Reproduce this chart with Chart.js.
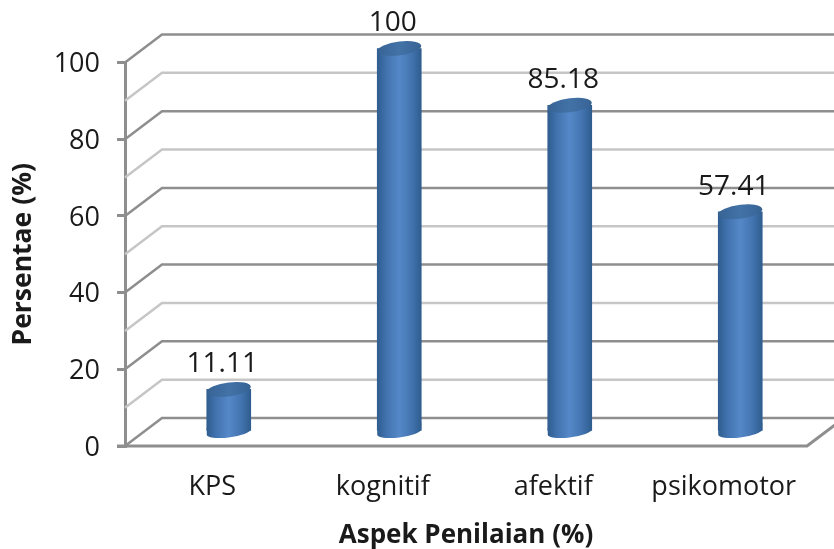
<!DOCTYPE html>
<html>
<head>
<meta charset="utf-8">
<script src="https://cdn.jsdelivr.net/npm/chart.js@4"></script>
<style>
  html, body { margin: 0; background: #fff; }
  canvas { display: block; }
</style>
</head>
<body>
<canvas id="chartAspek" width="834" height="549"></canvas>
<script>
// Persentase per aspek penilaian, silinder 3D semu di atas Chart.js
const categories = ["KPS", "kognitif", "afektif", "psikomotor"];
const values = [11.11, 100, 85.18, 57.41];
const valueLabels = ["11.11", "100", "85.18", "57.41"];
const yTicks = [0, 20, 40, 60, 80, 100];
const minorLines = [10, 30, 50, 70, 90];

const DEPTH_X = 37, DEPTH_Y = -28;
const BAR_W = 44, CAP_RY = 7, SLOPE = -0.12;
const MAJOR = "#8e8e8e", MINOR = "#c6c6c6";
const TEXT = "#1a1a1a", FONT = "Open Sans";

function barGradient(c, x, a, b, d) {
  const g = c.createLinearGradient(x - BAR_W / 2, 0, x + BAR_W / 2, 0);
  g.addColorStop(0, d);
  g.addColorStop(0.22, a);
  g.addColorStop(0.5, b);
  g.addColorStop(0.78, a);
  g.addColorStop(1, d);
  return g;
}

// elips miring, lebarnya tetap sama dengan batang
function drawCap(c, x, y, fill, bottom) {
  c.save();
  c.translate(x, y);
  c.transform(1, SLOPE, 0, 1, 0, 0);
  c.translate(-x, -y);
  c.beginPath();
  if (bottom) {
    // sisi tegak diteruskan supaya tidak ada takik di sudut batang
    c.moveTo(x - BAR_W / 2, y - CAP_RY);
    c.lineTo(x + BAR_W / 2, y - CAP_RY);
    c.ellipse(x, y, BAR_W / 2, CAP_RY - 1.5, 0, 0, Math.PI);
  } else {
    c.ellipse(x, y, BAR_W / 2, CAP_RY, 0, 0, Math.PI * 2);
  }
  c.closePath();
  c.fillStyle = fill;
  c.fill();
  c.restore();
}

const wall3d = {
  id: "wall3d",
  beforeDatasetsDraw(chart) {
    const c = chart.ctx, y = chart.scales.y, a = chart.chartArea;
    const line = (v, color) => {
      const py = y.getPixelForValue(v);
      c.beginPath();
      c.moveTo(a.left, py);
      c.lineTo(a.left + DEPTH_X, py + DEPTH_Y);
      c.lineTo(a.right + DEPTH_X, py + DEPTH_Y);
      c.strokeStyle = color;
      c.lineWidth = 2.5;
      c.stroke();
    };
    minorLines.forEach(v => line(v, MINOR));
    yTicks.forEach(v => line(v, MAJOR));

    // lantai depan
    const y0 = y.getPixelForValue(0);
    c.beginPath();
    c.moveTo(a.left - 8, y0);
    c.lineTo(a.right, y0);
    c.lineTo(a.right + DEPTH_X, y0 + DEPTH_Y);
    c.strokeStyle = MAJOR;
    c.lineWidth = 3;
    c.stroke();

    // batang digambar di tengah kedalaman
    c.save();
    c.translate(DEPTH_X / 2, DEPTH_Y / 2);
    chart.getDatasetMeta(0).data.forEach(bar => {
      drawCap(c, bar.x, y0, barGradient(c, bar.x, "#4374b0", "#5588c8", "#2f5d8f"), true);
    });
  },
  afterDatasetsDraw(chart) {
    const c = chart.ctx;
    const bars = chart.getDatasetMeta(0).data;
    bars.forEach(bar => {
      drawCap(c, bar.x, bar.y, barGradient(c, bar.x, "#3d6a9e", "#4272a6", "#376392"), false);
    });
    c.restore();

    c.fillStyle = TEXT;
    c.textAlign = "center";
    c.textBaseline = "middle";
    c.font = "28px '" + FONT + "'";
    bars.forEach((bar, i) => {
      c.fillText(valueLabels[i], bar.x + 12, bar.y - 39);
    });
  }
};

new Chart(document.getElementById("chartAspek"), {
  type: "bar",
  data: {
    labels: categories,
    datasets: [{
      data: values,
      barThickness: BAR_W,
      clip: false,
      backgroundColor(ctx) {
        const x = ctx.chart.scales.x.getPixelForValue(ctx.dataIndex);
        if (!Number.isFinite(x)) return "#4374b0";
        return barGradient(ctx.chart.ctx, x, "#4374b0", "#5588c8", "#2f5d8f");
      }
    }]
  },
  options: {
    responsive: false,
    animation: false,
    layout: { padding: { top: 62.5, right: 27, left: 0, bottom: 0 } },
    plugins: { legend: { display: false }, tooltip: { enabled: false } },
    scales: {
      x: {
        grid: { display: false },
        border: { display: false },
        ticks: { color: TEXT, font: { family: FONT, size: 27 }, padding: 17, labelOffset: 2, maxRotation: 0 },
        title: {
          display: true,
          text: "Aspek Penilaian (%)",
          color: TEXT,
          font: { family: FONT, size: 26, weight: "bold", lineHeight: 1 },
          padding: { top: 0, bottom: 0 }
        },
        afterFit(scale) { scale.height = 103; }
      },
      y: {
        min: 0,
        max: 100,
        afterBuildTicks(scale) { scale.ticks = yTicks.map(v => ({ value: v })); },
        grid: { drawOnChartArea: false, color: MAJOR, lineWidth: 3, tickLength: 8 },
        border: { color: MAJOR, width: 3 },
        ticks: { color: TEXT, font: { family: FONT, size: 27 }, padding: 17, labelOffset: 2 },
        title: {
          display: true,
          text: "Persentae (%)",
          color: TEXT,
          font: { family: FONT, size: 26.5, weight: "bold", lineHeight: 1 },
          padding: { top: 10, bottom: 0 }
        },
        afterFit(scale) { scale.width = 125; }
      }
    }
  },
  plugins: [wall3d]
});
</script>
</body>
</html>
